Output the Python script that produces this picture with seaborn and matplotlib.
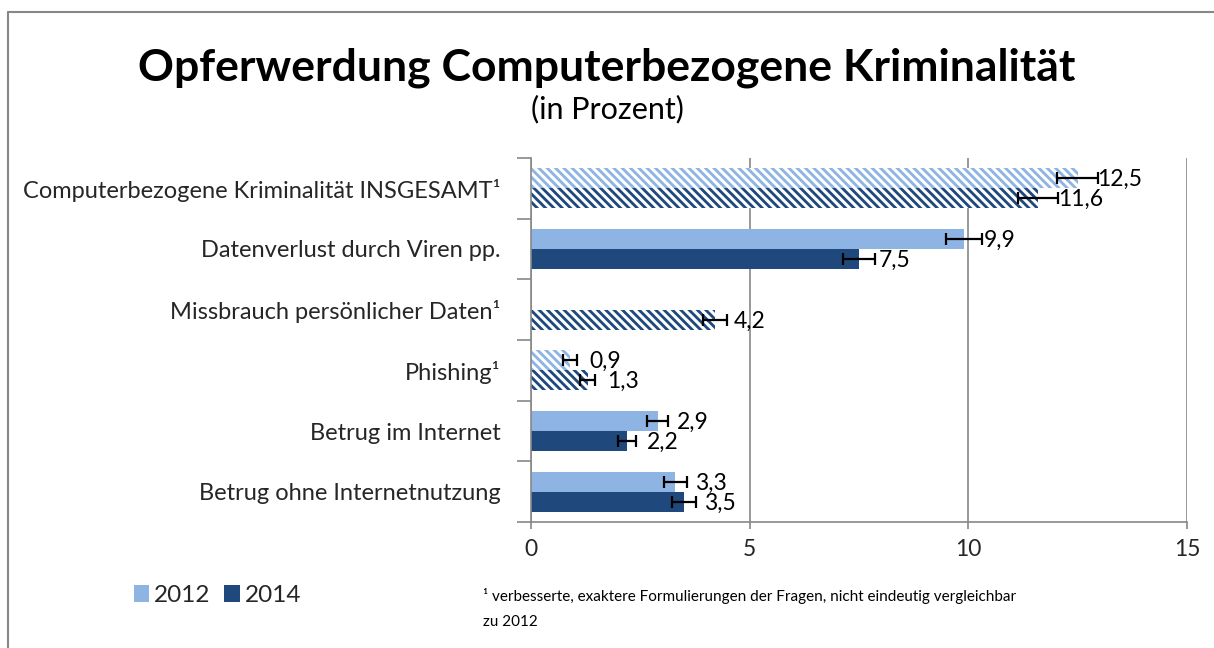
import numpy as np
import pandas as pd
import matplotlib
matplotlib.use("Agg")
import matplotlib.pyplot as plt
import seaborn as sns
from matplotlib.patches import Patch
from matplotlib.lines import Line2D

categories = [
    "Computerbezogene Kriminalität INSGESAMT¹",
    "Datenverlust durch Viren pp.",
    "Missbrauch persönlicher Daten¹",
    "Phishing¹",
    "Betrug im Internet",
    "Betrug ohne Internetnutzung",
]
years = ["2012", "2014"]
values_2012 = [12.5, 9.9, np.nan, 0.9, 2.9, 3.3]
values_2014 = [11.6, 7.5, 4.2, 1.3, 2.2, 3.5]
err_2012 = [0.47, 0.42, np.nan, 0.16, 0.24, 0.26]
err_2014 = [0.46, 0.37, 0.27, 0.17, 0.20, 0.27]
hatched = [True, False, True, True, False, False]
colors = {"2012": "#8EB4E3", "2014": "#1F497D"}

sns.set_theme(style="white")
plt.rcParams["font.family"] = ["Lato", "DejaVu Sans"]
plt.rcParams["hatch.linewidth"] = 2.2

df = pd.DataFrame({
    "Kategorie": categories * 2,
    "Jahr": ["2012"] * len(categories) + ["2014"] * len(categories),
    "Wert": values_2012 + values_2014,
})

fig = plt.figure(figsize=(12.14, 6.48), dpi=100)
ax = fig.add_axes([0.4374, 0.1944, 0.5404, 0.5618])

sns.barplot(data=df, y="Kategorie", x="Wert", hue="Jahr", order=categories,
            hue_order=years, palette=colors, orient="h", width=0.66,
            saturation=1, ax=ax, legend=False, errorbar=None)

vals = {"2012": values_2012, "2014": values_2014}
errs = {"2012": err_2012, "2014": err_2014}
for cont, yr in zip(ax.containers, years):
    for bar in cont:
        yc = bar.get_y() + bar.get_height() / 2
        idx = int(round(yc))
        v = vals[yr][idx]
        if np.isnan(v):
            continue
        bar.set_linewidth(0)
        if hatched[idx]:
            bar.set_edgecolor("white")
            bar.set_hatch("\\\\\\\\")
        e = errs[yr][idx]
        ax.errorbar(v, yc, xerr=e, fmt="none", ecolor="black", elinewidth=1.6,
                    capsize=4.5, capthick=1.6, zorder=5)
        ax.annotate(f"{v:.1f}".replace(".", ","), xy=(v, yc),
                    xytext=(14, -1), textcoords="offset points",
                    va="center", ha="left", fontsize=16.5, color="black", zorder=6)

ax.set_xlim(0, 15)
ax.set_ylim(len(categories) - 0.5, -0.5)
ax.set_xticks([0, 5, 10, 15])
ax.set_xticklabels(["0", "5", "10", "15"], fontsize=16.5)
ax.set_yticks(range(len(categories)))
ax.set_yticklabels(categories, fontsize=17)
ax.set_yticks(np.arange(-0.5, len(categories), 1), minor=True)
ax.tick_params(axis="y", which="major", length=0, pad=22)
ax.tick_params(axis="y", which="minor", length=10, color="#878787", width=1.2, left=True)
ax.tick_params(axis="x", which="major", length=5, color="#878787", width=1.2, bottom=True, pad=7)
ax.set_xlabel("")
ax.set_ylabel("")
ax.xaxis.grid(True, color="#878787", linewidth=1.2)
ax.set_axisbelow(True)
for s in ["top", "right"]:
    ax.spines[s].set_visible(False)
for s in ["left", "bottom"]:
    ax.spines[s].set_color("#878787")
    ax.spines[s].set_linewidth(1.2)

fig.text(0.5, 0.896, "Opferwerdung Computerbezogene Kriminalität", ha="center",
         va="center", fontsize=32, fontweight="bold", color="black")
fig.text(0.5, 0.832, "(in Prozent)", ha="center", va="center", fontsize=22, color="black")

handles = [Patch(facecolor=colors[y], edgecolor="none") for y in years]
fig.legend(handles, years, loc="center left", bbox_to_anchor=(0.092, 0.081), ncol=2,
           frameon=False, fontsize=17.5, handlelength=0.65, handleheight=0.65,
           handletextpad=0.2, columnspacing=0.55)

fig.text(0.398, 0.081, "¹ verbesserte, exaktere Formulierungen der Fragen, nicht eindeutig vergleichbar",
         ha="left", va="center", fontsize=11, color="black")
fig.text(0.398, 0.040, "zu 2012", ha="left", va="center", fontsize=11, color="black")

fig.add_artist(Line2D([8 / 1214, 1.0], [1 - 12 / 648, 1 - 12 / 648], transform=fig.transFigure,
                      color="#878787", linewidth=1.5))
fig.add_artist(Line2D([8 / 1214, 8 / 1214], [0.0, 1 - 12 / 648], transform=fig.transFigure,
                      color="#878787", linewidth=1.5))

fig.savefig("out.png", dpi=100)
